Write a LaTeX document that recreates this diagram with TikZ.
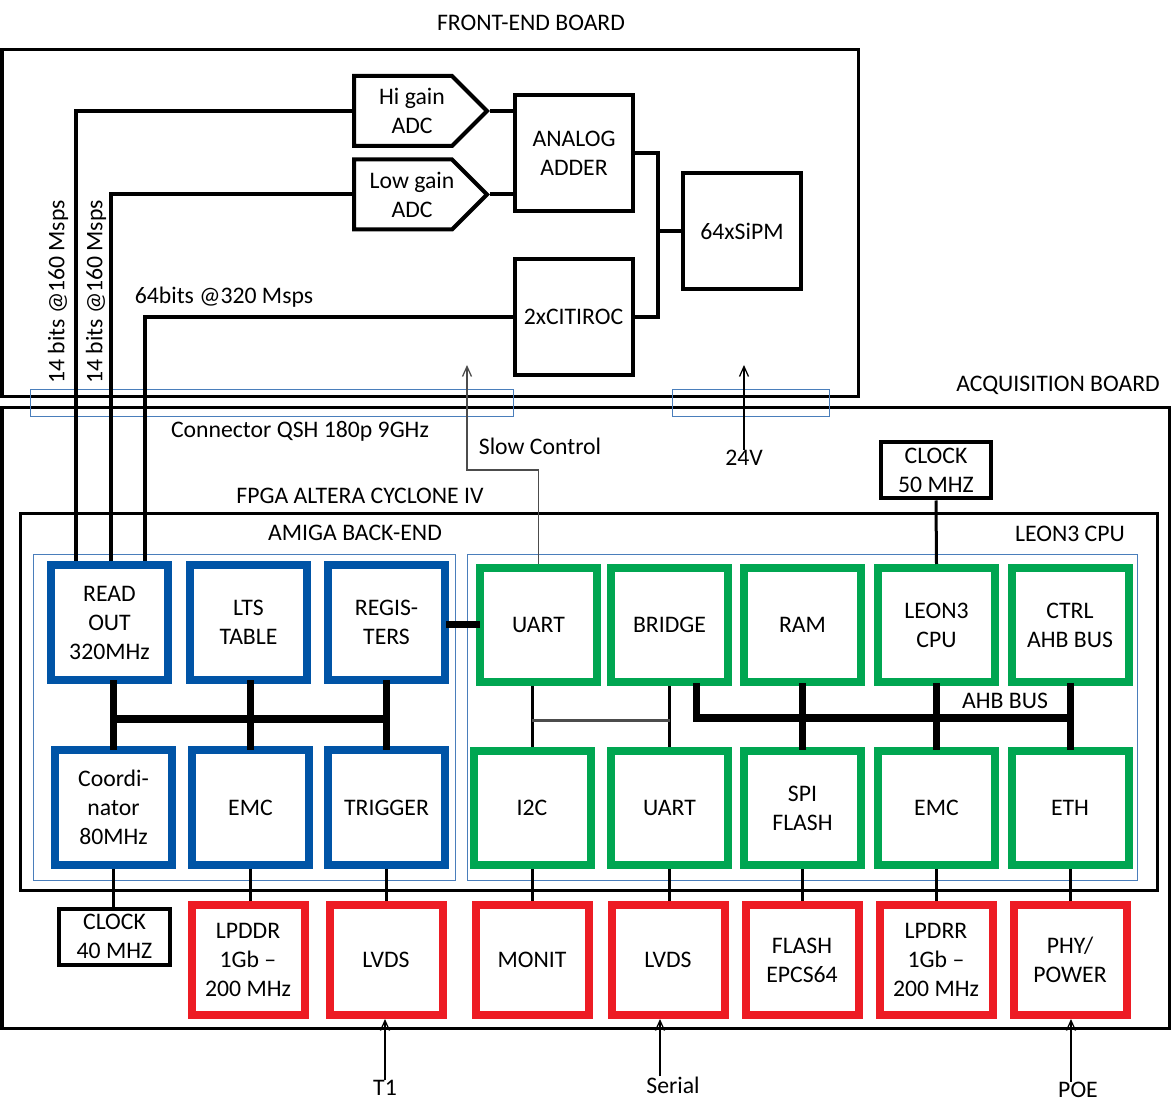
\documentclass[tikz,border=0pt]{standalone}
\usepackage{fontspec}
\setmainfont{Carlito}
\usetikzlibrary{arrows.meta,positioning,calc,shapes.symbols}
\definecolor{bblue}{RGB}{0,84,166}
\definecolor{bgreen}{RGB}{0,166,81}
\definecolor{bred}{RGB}{237,28,36}
\definecolor{fblue}{RGB}{74,126,187}

\tikzset{
  every node/.style={font=\fontsize{13.5}{16.5}\selectfont, align=center, inner sep=0pt},
  blkbox/.style={draw, line width=0.8mm, minimum width=23.6mm, minimum height=23.2mm},
  colbox/.style={draw=#1, line width=1.6mm, minimum width=23.4mm, minimum height=22.8mm},
  adcbox/.style={draw, line width=0.8mm, signal, signal to=east, signal pointer angle=90,
    minimum width=26.6mm, minimum height=14mm, label={[xshift=1.8mm]center:{#1}}},
  clkbox/.style={draw, line width=0.8mm, minimum width=22mm, minimum height=11.2mm},
  frame/.style={draw, line width=0.6mm},
  subframe/.style={draw=fblue, line width=0.2mm},
  wire/.style={line width=0.8mm},
  bus/.style={line width=1.4mm, line cap=rect},
  thinwire/.style={line width=0.6mm},
  sig/.style={line width=0.25mm, -{Straight Barb[length=2mm,width=1.8mm]}},
}

\begin{document}
\begin{tikzpicture}[x=0.2mm,y=-0.2mm]
\useasboundingbox (0,0) rectangle (1176,1119);
% boards
\draw[frame] (2,50) rectangle (858,397);
\draw[frame] (2,408) rectangle (1169,1028);
\draw[frame] (20,514) rectangle (1157,890);
\draw[subframe] (33,555) rectangle (455,880);
\draw[subframe] (467,555) rectangle (1137,880);
\draw[subframe] (30,390) rectangle (513,417);
\draw[subframe] (672,390) rectangle (829,417);

% titles
\node (lblfeb) at (531,23) {FRONT-END BOARD};
\node (lblacq) at (1058,385) {ACQUISITION BOARD};
\node (lblcon) at (300,431) {Connector QSH 180p 9GHz};
\node (lblfpga) at (360,496) {FPGA ALTERA CYCLONE IV};
\node (lblamiga) at (355,533) {AMIGA BACK-END};
\node (lblleon) at (1070,534) {LEON3 CPU};
\node (lblahb) at (1005,701) {AHB BUS};

% front-end
\node[adcbox={Hi gain\\ADC}] (higain) at (403,111) {};
\node[adcbox={Low gain\\ADC}] (lowgain) at (403,194.5) {};
\node[blkbox] (adder) at (574,153) {ANALOG\\ADDER};
\node[blkbox] (citiroc) at (573.5,317) {2xCITIROC};
\node[blkbox] (sipm) at (742,231.5) {64xSiPM};
\node[rotate=90] (lblhi) at (58,292) {14 bits @160 Msps};
\node[rotate=90] (lbllo) at (96,292) {14 bits @160 Msps};
\node (lblcit) at (224,297) {64bits @320 Msps};

% back-end
\foreach \nm/\x/\txt in {readout/109.5/{READ\\OUT\\320MHz}, lts/248.5/{LTS\\TABLE},
    regs/386.5/{REGIS-\\TERS}}
  \node[colbox=bblue] (\nm) at (\x,622.5) {\txt};
\foreach \nm/\x/\txt in {coord/113.5/{Coordi-\\nator\\80MHz}, emcb/250.5/EMC,
    trig/386.5/TRIGGER}
  \node[colbox=bblue] (\nm) at (\x,807.5) {\txt};

% leon3
\foreach \nm/\x/\txt in {uart/538.5/UART, bridge/669.5/BRIDGE, ram/802.5/RAM,
    leon/936.5/{LEON3\\CPU}, ctrl/1070/{CTRL\\AHB BUS}}
  \node[colbox=bgreen] (\nm) at (\x,625) {\txt};
\foreach \nm/\x/\txt in {i2c/532/I2C, uart2/669.5/UART, spi/802.5/{SPI\\FLASH},
    emc/936.5/EMC, eth/1070/ETH}
  \node[colbox=bgreen] (\nm) at (\x,808) {\txt};

% external parts
\foreach \nm/\x/\txt in {lpddr/248/{LPDDR\\1Gb –\\200 MHz}, lvdsa/386/LVDS, monit/532/MONIT,
    lvdsb/668/LVDS, flash/802/{FLASH\\EPCS64}, lpdrr/936/{LPDRR\\1Gb –\\200 MHz}}
  \node[colbox=bred, minimum width=22.6mm, minimum height=22mm] (\nm) at (\x,960) {\txt};
\node[colbox=bred, minimum width=22.6mm, minimum height=22mm] (phy) at (1070,960) {PHY/\\POWER};
\node[clkbox] (clkb) at (936,470.5) {CLOCK\\50 MHZ};
\node[clkbox] (clka) at (114.5,936.5) {CLOCK\\40 MHZ};

\node (t1) at (385,1088) {T1};
\node (serial) at (673,1085) {Serial};
\node (poe) at (1078,1090) {POE};
\node (lblsc) at (540,446) {Slow Control};
\node (lbl24) at (744,458) {24V};

% front-end wires
\draw[wire] (higain.east) -- (adder.west |- higain.east);
\draw[wire] (lowgain.east) -- (adder.west |- lowgain.east);
\draw[wire] (adder.east) -- ++(23,0) coordinate (sj) |- (citiroc.east);
\draw[wire] (sipm.west) -- (sj |- sipm.west);
\draw[wire] (higain.west) -| ([xshift=-6.7mm]readout.north);
\draw[wire] (lowgain.west) -| ([xshift=0.3mm]readout.north);
\draw[wire] (citiroc.west) -| ([xshift=7.1mm]readout.north);

% slow control and power
\coordinate (scbend) at (467,470);
\coordinate (scend) at (467,365);
\coordinate (vend) at (744,365);
\draw[sig, black!70] (uart.north) |- (scbend) -- (scend);
\draw[sig] (lbl24.north) -- (vend);

% buses
\coordinate (bebus) at (0,719);
\coordinate (lobus) at (0,720);
\coordinate (ahb) at (0,718);
\draw[bus] (coord.north) -- (coord.north |- readout.south);
\draw[bus] (emcb.north) -- (emcb.north |- lts.south);
\draw[bus] (trig.north) -- (trig.north |- regs.south);
\draw[bus] (coord.north |- bebus) -- (trig.north |- bebus);
\draw[bus] (uart.west -| regs.east) -- (uart.west);
\draw[thinwire] (i2c.north) -- (i2c.north |- uart.south);
\draw[thinwire] (uart2.north) -- (uart2.north |- bridge.south);
\draw[thinwire, black!70] (i2c.north |- lobus) -- (uart2.north |- lobus);
\draw[bus] ([xshift=5.3mm]bridge.south) |- (ctrl.south |- ahb);
\draw[bus] (ram.south) -- (spi.north);
\draw[bus] (leon.south) -- (emc.north);
\draw[bus] (ctrl.south) -- (eth.north);
\draw[thinwire] (clkb.south) -- (leon.north);

% to external parts
\draw[thinwire] (coord.south) -- (coord.south |- clka.north);
\foreach \a/\b in {emcb/lpddr, trig/lvdsa, i2c/monit, uart2/lvdsb, spi/flash, emc/lpdrr, eth/phy}
  \draw[thinwire] (\a.south) -- (\a.south |- \b.north);
\draw[sig] (t1.north) -- (t1.north |- lvdsa.south);
\draw[sig] ([xshift=-2.6mm]serial.north) -- ([xshift=-2.6mm]serial.north |- lvdsb.south);
\draw[sig] ([xshift=-1.4mm]poe.north) -- ([xshift=-1.4mm]poe.north |- phy.south);
\end{tikzpicture}
\end{document}
